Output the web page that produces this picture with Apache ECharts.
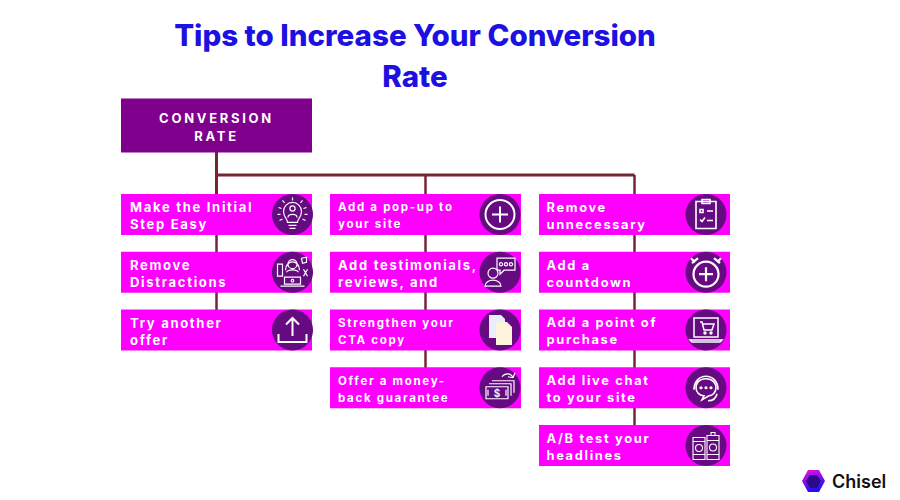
<!DOCTYPE html>
<html>
<head>
<meta charset="utf-8">
<title>Tips to Increase Your Conversion Rate</title>
<script src="https://cdn.jsdelivr.net/npm/echarts@6/dist/echarts.min.js"></script>
<style>
  html, body { margin: 0; background: #fff; }
  #chart { width: 900px; height: 500px; }
  /* zrender has no letter spacing option, so it is set on the svg text */
  #chart text[fill="#fff"] { letter-spacing: 1.7px; }
  #chart text[fill="#fefefe"] { letter-spacing: 2.7px; }
</style>
</head>
<body>
<div id="chart"></div>
<script>
var titleText = 'Tips to Increase Your Conversion\nRate';
var rootLabel = 'CONVERSION\nRATE';
var brandName = 'Chisel';

// one list of tips per column, top to bottom
var column1Tips = ['Make the Initial\nStep Easy', 'Remove\nDistractions', 'Try another\noffer'];
var column2Tips = ['Add a pop-up to\nyour site', 'Add testimonials,\nreviews, and', 'Strengthen your\nCTA copy', 'Offer a money-\nback guarantee'];
var column3Tips = ['Remove\nunnecessary', 'Add a\ncountdown', 'Add a point of\npurchase', 'Add live chat\nto your site', 'A/B test your\nheadlines'];
var tipColumns = [column1Tips, column2Tips, column3Tips];

var column1Icons = ['bulb', 'desk', 'upload'];
var column2Icons = ['plus', 'review', 'pages', 'money'];
var column3Icons = ['clipboard', 'alarm', 'cart', 'headset', 'phones'];
var iconColumns = [column1Icons, column2Icons, column3Icons];

var column1FontSizes = [13, 13, 13];
var column2FontSizes = [11.5, 13, 11.500, 11.500];
var column3FontSizes = [12.8, 12.8, 12.8, 12.8, 12.8];
var fontColumns = [column1FontSizes, column2FontSizes, column3FontSizes];

// rows on the hidden y axis
var rootRow = -1.54;
var busRow = -0.684;
var lastRow = 4;

var BOX_W = 191, BOX_H = 41;
var ROOT_H = 54;
var ICON_R = 20.5;
var TEXT_DY = 1.5;
var iconOffset = [76, 74.5, 71.5];
var textOffset = [-86.5, -87.5, -88];
var FONT = 'Inter, "Noto Sans", sans-serif';

var PURPLE = '#7e008c', MAGENTA = '#ff00ff', ICON_BG = '#660a82', LINK = '#752633';

// icon drawings in a 40x40 box; the leading moves pin the box so nothing is rescaled
var ring = function (cx, cy, r) {
  return 'M' + (cx - r) + ' ' + cy + 'a' + r + ' ' + r + ' 0 1 0 ' + (2 * r) + ' 0a' + r + ' ' + r + ' 0 1 0 ' + (-2 * r) + ' 0';
};
var icons = {
  bulb: { line: 'M15 28C15 24 11 23 11 17A9 9 0 0 1 29 17C29 23 25 24 25 28ZM16 31H24M17 34H23' + ring(20, 14, 2.6) +
    'M15.5 23C15.5 19 24.5 19 24.5 23M20 3V6M10 6L12 8.5M30 6L28 8.5M6 13L9 14M34 13L31 14M5 20H8M35 20H32M7 26L10 24.5M33 26L30 24.5' },
  desk: { line: ring(20, 12, 4.5) + 'M13 18C13 7 27 7 27 18M14 20C16 17 24 17 26 20M12 25H28V32H12ZM8 34H32M5 12H10V24H5ZM29 6L34 5V10L30 11ZM31 17L35 24M35 17L31 24' + ring(20, 28.5, 1.3) },
  upload: { line: 'M20 8V26M13.5 14.5L20 8L26.500 14.5M6 24V32H34V24', width: 2 },
  plus: { line: ring(20, 20, 14.5) + 'M20 12V28M12 20H28', width: 2 },
  review: { line: 'M17 6H35V18H24L20 22V18H17Z' + ring(21, 12, 1.6) + ring(26, 12, 1.6) + ring(31, 12, 1.6) + ring(13, 21, 5) + 'M5 34C5 26 21 26 21 34Z' },
  pages: { fill: 'M9 5H21L25 9V28H9Z', fillColor: '#e8eefc', fill2: 'M16 12H27L32 17V35H16Z', fill2Color: '#fdf3dc' },
  money: { line: 'M6 19H28V31H6ZM9 16H31V28M12 13H34V25M8 22V28M26 22V28M22 9C25 5 31 5 33 10M33 10L35 5M33 10L28 9', text: '$' },
  clipboard: { line: 'M10 7H30V34H10ZM16 5H24V9H16ZM14 15H17V18H14ZM21 16.500H27M14 25L16 27L19 23M21 26H27', width: 1.6 },
  alarm: { line: ring(20, 22, 12.500) + 'M20 15V29M13 22H27M6 11L12 6M34 11L28 6M5 6L9 10M35 6L31 10', width: 2.2 },
  cart: { line: 'M8 8H32V27H8ZM4 30H36L34 32H6ZM14 12H16L18 20H26L28 14H17' + ring(19, 23, 1) + ring(25, 23, 1), width: 1.5 },
  headset: { line: 'M8 22C8 4 32 4 32 22M31 26C30 31 26 33 22 33M20 11C12 11 10 17 10 20C10 25 14 28 18 28L16 32L23 28C27 28 30 24 30 20C30 16 27 11 20 11Z' + ring(15, 20, .8) + ring(20, 20, .8) + ring(25, 20, .8), width: 1.6 },
  phones: { line: 'M7 12H19V34H7ZM21 10H33V34H21ZM25 7H29V10H25ZM7 16H19M7 29H19M21 15H33M21 29H33' + ring(13, 22.5, 3.5) + ring(27, 22, 3.5), width: 1.1 }
};

var nodes = [];
tipColumns.forEach(function (tips, col) {
  tips.forEach(function (tip, row) {
    nodes.push([col, row, tip, iconColumns[col][row], fontColumns[col][row]]);
  });
});

// links run as [fromCol, fromRow, toCol, toRow, width]
var links = [[0, rootRow, 0, 0, 3], [0, busRow, 2, busRow, 3], [1, busRow, 1, 0, 2.5], [2, busRow, 2, 0, 2.5]];
tipColumns.forEach(function (tips, col) {
  for (var i = 0; i < tips.length - 1; i++) {
    links.push([col, i, col, i + 1, 2.5]);
  }
});

function renderLink(params, api) {
  var a = api.coord([api.value(0), api.value(1)]);
  var b = api.coord([api.value(2), api.value(3)]);
  return {
    type: 'line',
    shape: { x1: a[0], y1: a[1], x2: b[0], y2: b[1] },
    style: { stroke: LINK, lineWidth: api.value(4) }
  };
}

function iconChildren(name, cx, cy) {
  var icon = icons[name];
  var rect = { x: cx - 20, y: cy - 20, width: 40, height: 40 };
  var list = [{ type: 'circle', shape: { cx: cx, cy: cy, r: ICON_R }, style: { fill: ICON_BG } }];
  var add = function (d, style) {
    list.push({
      type: 'path',
      shape: Object.assign({ pathData: 'M0 0M40 40' + d, layout: 'cover' }, rect),
      style: style
    });
  };
  if (icon.fill) {
    add(icon.fill, { fill: icon.fillColor });
    add(icon.fill2, { fill: icon.fill2Color });
  }
  if (icon.line) {
    add(icon.line, { fill: 'none', stroke: '#fff', lineWidth: icon.width || 1.2 });
  }
  if (icon.text) {
    list.push({
      type: 'text',
      style: { text: icon.text, x: cx - 3, y: cy + 5, fill: '#eee', fontSize: 10, fontWeight: 700, fontFamily: FONT, align: 'center', verticalAlign: 'middle' }
    });
  }
  return list;
}

function renderTip(params, api) {
  var node = nodes[params.dataIndex];
  var col = node[0];
  var c = api.coord([col, node[1]]);
  var children = [
    { type: 'rect', shape: { x: c[0] - BOX_W / 2, y: c[1] - BOX_H / 2, width: BOX_W, height: BOX_H }, style: { fill: MAGENTA } },
    {
      type: 'text',
      style: {
        text: node[2], x: c[0] + textOffset[col], y: c[1] + TEXT_DY, fill: '#fff',
        fontSize: node[4], fontWeight: 700, fontFamily: FONT, lineHeight: 17,
        align: 'left', verticalAlign: 'middle'
      }
    }
  ];
  return { type: 'group', children: children.concat(iconChildren(node[3], c[0] + iconOffset[col], c[1])) };
}

function renderRoot(params, api) {
  var c = api.coord([0, rootRow]);
  return {
    type: 'group',
    children: [
      { type: 'rect', shape: { x: c[0] - BOX_W / 2, y: c[1] - ROOT_H / 2, width: BOX_W, height: ROOT_H }, style: { fill: PURPLE } },
      {
        type: 'text',
        style: { text: rootLabel, x: c[0], y: c[1] + TEXT_DY, fill: '#fefefe', fontSize: 13, fontWeight: 700, fontFamily: FONT, lineHeight: 18, align: 'center', verticalAlign: 'middle' }
      }
    ]
  };
}

var chart = echarts.init(document.getElementById('chart'), null, { renderer: 'svg' });

chart.setOption({
  animation: false,
  backgroundColor: '#fff',
  title: {
    text: titleText,
    left: 410,
    top: 9,
    textAlign: 'center',
    textStyle: { color: '#1c10e2', fontSize: 29.5, fontWeight: 800, fontFamily: FONT, lineHeight: 41 }
  },
  grid: { left: 216.5, right: 265.5, top: 125.5, bottom: 54.5 },
  xAxis: { type: 'value', min: 0, max: 2, show: false },
  yAxis: { type: 'value', min: rootRow, max: lastRow, inverse: true, show: false },
  graphic: [
    {
      type: 'polygon', z: 10,
      shape: { points: [[808, 470], [819, 470], [825, 481], [819, 492], [808, 492], [802, 481]] },
      style: {
        fill: new echarts.graphic.LinearGradient(0, 0, 0.3, 1, [
          { offset: 0, color: '#f010e0' }, { offset: 1, color: '#2010f0' }
        ])
      }
    },
    {
      type: 'polygon', z: 11,
      shape: { points: [[810, 475], [817, 475], [821, 481], [817, 488], [810, 488], [806, 481]] },
      style: { fill: '#2c0a8c' }
    },
    {
      type: 'text', z: 11, left: 832, top: 472,
      style: { text: brandName, fill: '#111', fontSize: 18, fontWeight: 600, fontFamily: FONT }
    }
  ],
  series: [
    { type: 'custom', name: 'links', clip: false, silent: true, data: links, renderItem: renderLink },
    { type: 'custom', name: 'root', clip: false, silent: true, data: [[0, rootRow]], renderItem: renderRoot },
    {
      type: 'custom', name: 'tips', clip: false, silent: true,
      data: nodes.map(function (n) { return [n[0], n[1]]; }),
      renderItem: renderTip
    }
  ]
});
</script>
</body>
</html>
